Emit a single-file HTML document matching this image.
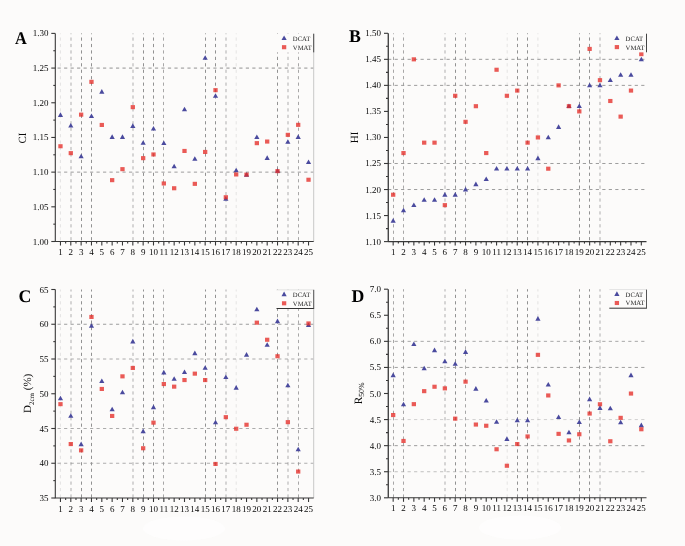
<!DOCTYPE html>
<html><head><meta charset="utf-8"><style>
html,body{margin:0;padding:0;background:#fcfbfa;}
body{width:685px;height:546px;overflow:hidden;}
svg{display:block;will-change:transform;}
.gh{stroke:#929292;stroke-width:1;stroke-dasharray:3.2 3.29;fill:none;}
.gv{stroke:#929292;stroke-width:1;stroke-dasharray:3.2 3.24;fill:none;}
.ax{stroke:#383838;stroke-width:1.1;fill:none;}
text{font-family:"Liberation Serif",serif;fill:#0a0a0a;text-rendering:geometricPrecision;}
.tl{font-size:9px;}
.lg{font-size:6.7px;fill:#1e1e1e;}
.pl{font-size:17.8px;font-weight:bold;fill:#000;text-rendering:geometricPrecision;}
.at{font-size:11px;}
.sub{font-size:7px;}
</style></head><body>
<svg width="685" height="546" viewBox="0 0 685 546">
<rect width="685" height="546" fill="#fcfbfa"/>
<ellipse cx="520" cy="527.6" rx="41" ry="12" fill="#fefefe" opacity="0.8"/>
<ellipse cx="184" cy="528.5" rx="41" ry="12" fill="#fefefe" opacity="0.8"/>
<line x1="55.30" y1="68.08" x2="313.70" y2="68.08" class="gh" stroke-dashoffset="4.2"/>
<line x1="55.30" y1="172.13" x2="313.70" y2="172.13" class="gh" stroke-dashoffset="4.2" stroke-opacity="0.9"/>
<line x1="60.40" y1="33.40" x2="60.40" y2="241.50" class="gv" stroke-dashoffset="2.37" stroke-opacity="0.22"/>
<line x1="71.00" y1="33.40" x2="71.00" y2="241.50" class="gv" stroke-dashoffset="2.37" stroke-opacity="0.72"/>
<line x1="81.50" y1="33.40" x2="81.50" y2="241.50" class="gv" stroke-dashoffset="2.37"/>
<line x1="91.50" y1="33.40" x2="91.50" y2="241.50" class="gv" stroke-dashoffset="2.37"/>
<line x1="133.00" y1="33.40" x2="133.00" y2="241.50" class="gv" stroke-dashoffset="2.37" stroke-opacity="0.72"/>
<line x1="143.50" y1="33.40" x2="143.50" y2="241.50" class="gv" stroke-dashoffset="2.37"/>
<line x1="153.50" y1="33.40" x2="153.50" y2="241.50" class="gv" stroke-dashoffset="2.37"/>
<line x1="163.50" y1="33.40" x2="163.50" y2="241.50" class="gv" stroke-dashoffset="2.37" stroke-opacity="0.8"/>
<line x1="205.50" y1="33.40" x2="205.50" y2="241.50" class="gv" stroke-dashoffset="2.37"/>
<line x1="215.50" y1="33.40" x2="215.50" y2="241.50" class="gv" stroke-dashoffset="2.37"/>
<line x1="226.00" y1="33.40" x2="226.00" y2="241.50" class="gv" stroke-dashoffset="2.37" stroke-opacity="0.72"/>
<line x1="236.20" y1="33.40" x2="236.20" y2="241.50" class="gv" stroke-dashoffset="2.37" stroke-opacity="0.22"/>
<line x1="277.50" y1="33.40" x2="277.50" y2="241.50" class="gv" stroke-dashoffset="2.37"/>
<line x1="288.00" y1="33.40" x2="288.00" y2="241.50" class="gv" stroke-dashoffset="2.37" stroke-opacity="0.72"/>
<line x1="298.50" y1="33.40" x2="298.50" y2="241.50" class="gv" stroke-dashoffset="2.37" stroke-opacity="0.8"/>
<line x1="313.70" y1="33.40" x2="313.70" y2="241.50" stroke="#c8c8c8" stroke-width="1"/>
<path d="M55.30 33.40V241.50H313.70" class="ax"/>
<line x1="51.30" y1="241.50" x2="55.30" y2="241.50" class="ax"/>
<text x="48.40" y="244.50" class="tl" text-anchor="end">1.00</text>
<line x1="53.30" y1="224.16" x2="55.30" y2="224.16" class="ax"/>
<line x1="51.30" y1="206.82" x2="55.30" y2="206.82" class="ax"/>
<text x="48.40" y="209.82" class="tl" text-anchor="end">1.05</text>
<line x1="53.30" y1="189.48" x2="55.30" y2="189.48" class="ax"/>
<line x1="51.30" y1="172.13" x2="55.30" y2="172.13" class="ax"/>
<text x="48.40" y="175.13" class="tl" text-anchor="end">1.10</text>
<line x1="53.30" y1="154.79" x2="55.30" y2="154.79" class="ax"/>
<line x1="51.30" y1="137.45" x2="55.30" y2="137.45" class="ax"/>
<text x="48.40" y="140.45" class="tl" text-anchor="end">1.15</text>
<line x1="53.30" y1="120.11" x2="55.30" y2="120.11" class="ax"/>
<line x1="51.30" y1="102.77" x2="55.30" y2="102.77" class="ax"/>
<text x="48.40" y="105.77" class="tl" text-anchor="end">1.20</text>
<line x1="53.30" y1="85.43" x2="55.30" y2="85.43" class="ax"/>
<line x1="51.30" y1="68.08" x2="55.30" y2="68.08" class="ax"/>
<text x="48.40" y="71.08" class="tl" text-anchor="end">1.25</text>
<line x1="53.30" y1="50.74" x2="55.30" y2="50.74" class="ax"/>
<line x1="51.30" y1="33.40" x2="55.30" y2="33.40" class="ax"/>
<text x="48.40" y="36.40" class="tl" text-anchor="end">1.30</text>
<line x1="60.47" y1="241.50" x2="60.47" y2="245.50" class="ax"/>
<text x="60.47" y="255.10" class="tl" text-anchor="middle">1</text>
<line x1="65.64" y1="241.50" x2="65.64" y2="243.50" class="ax"/>
<line x1="70.80" y1="241.50" x2="70.80" y2="245.50" class="ax"/>
<text x="70.80" y="255.10" class="tl" text-anchor="middle">2</text>
<line x1="75.97" y1="241.50" x2="75.97" y2="243.50" class="ax"/>
<line x1="81.14" y1="241.50" x2="81.14" y2="245.50" class="ax"/>
<text x="81.14" y="255.10" class="tl" text-anchor="middle">3</text>
<line x1="86.31" y1="241.50" x2="86.31" y2="243.50" class="ax"/>
<line x1="91.48" y1="241.50" x2="91.48" y2="245.50" class="ax"/>
<text x="91.48" y="255.10" class="tl" text-anchor="middle">4</text>
<line x1="96.64" y1="241.50" x2="96.64" y2="243.50" class="ax"/>
<line x1="101.81" y1="241.50" x2="101.81" y2="245.50" class="ax"/>
<text x="101.81" y="255.10" class="tl" text-anchor="middle">5</text>
<line x1="106.98" y1="241.50" x2="106.98" y2="243.50" class="ax"/>
<line x1="112.15" y1="241.50" x2="112.15" y2="245.50" class="ax"/>
<text x="112.15" y="255.10" class="tl" text-anchor="middle">6</text>
<line x1="117.32" y1="241.50" x2="117.32" y2="243.50" class="ax"/>
<line x1="122.48" y1="241.50" x2="122.48" y2="245.50" class="ax"/>
<text x="122.48" y="255.10" class="tl" text-anchor="middle">7</text>
<line x1="127.65" y1="241.50" x2="127.65" y2="243.50" class="ax"/>
<line x1="132.82" y1="241.50" x2="132.82" y2="245.50" class="ax"/>
<text x="132.82" y="255.10" class="tl" text-anchor="middle">8</text>
<line x1="137.99" y1="241.50" x2="137.99" y2="243.50" class="ax"/>
<line x1="143.16" y1="241.50" x2="143.16" y2="245.50" class="ax"/>
<text x="143.16" y="255.10" class="tl" text-anchor="middle">9</text>
<line x1="148.32" y1="241.50" x2="148.32" y2="243.50" class="ax"/>
<line x1="153.49" y1="241.50" x2="153.49" y2="245.50" class="ax"/>
<text x="153.49" y="255.10" class="tl" text-anchor="middle">10</text>
<line x1="158.66" y1="241.50" x2="158.66" y2="243.50" class="ax"/>
<line x1="163.83" y1="241.50" x2="163.83" y2="245.50" class="ax"/>
<text x="163.83" y="255.10" class="tl" text-anchor="middle">11</text>
<line x1="169.00" y1="241.50" x2="169.00" y2="243.50" class="ax"/>
<line x1="174.16" y1="241.50" x2="174.16" y2="245.50" class="ax"/>
<text x="174.16" y="255.10" class="tl" text-anchor="middle">12</text>
<line x1="179.33" y1="241.50" x2="179.33" y2="243.50" class="ax"/>
<line x1="184.50" y1="241.50" x2="184.50" y2="245.50" class="ax"/>
<text x="184.50" y="255.10" class="tl" text-anchor="middle">13</text>
<line x1="189.67" y1="241.50" x2="189.67" y2="243.50" class="ax"/>
<line x1="194.84" y1="241.50" x2="194.84" y2="245.50" class="ax"/>
<text x="194.84" y="255.10" class="tl" text-anchor="middle">14</text>
<line x1="200.00" y1="241.50" x2="200.00" y2="243.50" class="ax"/>
<line x1="205.17" y1="241.50" x2="205.17" y2="245.50" class="ax"/>
<text x="205.17" y="255.10" class="tl" text-anchor="middle">15</text>
<line x1="210.34" y1="241.50" x2="210.34" y2="243.50" class="ax"/>
<line x1="215.51" y1="241.50" x2="215.51" y2="245.50" class="ax"/>
<text x="215.51" y="255.10" class="tl" text-anchor="middle">16</text>
<line x1="220.68" y1="241.50" x2="220.68" y2="243.50" class="ax"/>
<line x1="225.84" y1="241.50" x2="225.84" y2="245.50" class="ax"/>
<text x="225.84" y="255.10" class="tl" text-anchor="middle">17</text>
<line x1="231.01" y1="241.50" x2="231.01" y2="243.50" class="ax"/>
<line x1="236.18" y1="241.50" x2="236.18" y2="245.50" class="ax"/>
<text x="236.18" y="255.10" class="tl" text-anchor="middle">18</text>
<line x1="241.35" y1="241.50" x2="241.35" y2="243.50" class="ax"/>
<line x1="246.52" y1="241.50" x2="246.52" y2="245.50" class="ax"/>
<text x="246.52" y="255.10" class="tl" text-anchor="middle">19</text>
<line x1="251.68" y1="241.50" x2="251.68" y2="243.50" class="ax"/>
<line x1="256.85" y1="241.50" x2="256.85" y2="245.50" class="ax"/>
<text x="256.85" y="255.10" class="tl" text-anchor="middle">20</text>
<line x1="262.02" y1="241.50" x2="262.02" y2="243.50" class="ax"/>
<line x1="267.19" y1="241.50" x2="267.19" y2="245.50" class="ax"/>
<text x="267.19" y="255.10" class="tl" text-anchor="middle">21</text>
<line x1="272.36" y1="241.50" x2="272.36" y2="243.50" class="ax"/>
<line x1="277.52" y1="241.50" x2="277.52" y2="245.50" class="ax"/>
<text x="277.52" y="255.10" class="tl" text-anchor="middle">22</text>
<line x1="282.69" y1="241.50" x2="282.69" y2="243.50" class="ax"/>
<line x1="287.86" y1="241.50" x2="287.86" y2="245.50" class="ax"/>
<text x="287.86" y="255.10" class="tl" text-anchor="middle">23</text>
<line x1="293.03" y1="241.50" x2="293.03" y2="243.50" class="ax"/>
<line x1="298.20" y1="241.50" x2="298.20" y2="245.50" class="ax"/>
<text x="298.20" y="255.10" class="tl" text-anchor="middle">24</text>
<line x1="303.36" y1="241.50" x2="303.36" y2="243.50" class="ax"/>
<line x1="308.53" y1="241.50" x2="308.53" y2="245.50" class="ax"/>
<text x="308.53" y="255.10" class="tl" text-anchor="middle">25</text>
<path d="M60.47 112.35L63.07 116.95L57.87 116.95Z" fill="#4a4a9e"/>
<rect x="58.32" y="144.20" width="4.3" height="4.1" fill="#e42d28" fill-opacity="0.78"/>
<path d="M70.80 122.95L73.40 127.55L68.20 127.55Z" fill="#4a4a9e"/>
<rect x="68.65" y="151.10" width="4.3" height="4.1" fill="#e42d28" fill-opacity="0.78"/>
<path d="M81.14 153.65L83.74 158.25L78.54 158.25Z" fill="#4a4a9e"/>
<rect x="78.99" y="112.60" width="4.3" height="4.1" fill="#e42d28" fill-opacity="0.78"/>
<path d="M91.48 113.45L94.08 118.05L88.88 118.05Z" fill="#4a4a9e"/>
<rect x="89.33" y="79.80" width="4.3" height="4.1" fill="#e42d28" fill-opacity="0.78"/>
<path d="M101.81 89.05L104.41 93.65L99.21 93.65Z" fill="#4a4a9e"/>
<rect x="99.66" y="122.90" width="4.3" height="4.1" fill="#e42d28" fill-opacity="0.78"/>
<path d="M112.15 134.35L114.75 138.95L109.55 138.95Z" fill="#4a4a9e"/>
<rect x="110.00" y="178.10" width="4.3" height="4.1" fill="#e42d28" fill-opacity="0.78"/>
<path d="M122.48 134.35L125.08 138.95L119.88 138.95Z" fill="#4a4a9e"/>
<rect x="120.33" y="167.10" width="4.3" height="4.1" fill="#e42d28" fill-opacity="0.78"/>
<path d="M132.82 123.35L135.42 127.95L130.22 127.95Z" fill="#4a4a9e"/>
<rect x="130.67" y="105.10" width="4.3" height="4.1" fill="#e42d28" fill-opacity="0.78"/>
<path d="M143.16 140.25L145.76 144.85L140.56 144.85Z" fill="#4a4a9e"/>
<rect x="141.01" y="156.10" width="4.3" height="4.1" fill="#e42d28" fill-opacity="0.78"/>
<path d="M153.49 125.95L156.09 130.55L150.89 130.55Z" fill="#4a4a9e"/>
<rect x="151.34" y="152.40" width="4.3" height="4.1" fill="#e42d28" fill-opacity="0.78"/>
<path d="M163.83 140.45L166.43 145.05L161.23 145.05Z" fill="#4a4a9e"/>
<rect x="161.68" y="181.40" width="4.3" height="4.1" fill="#e42d28" fill-opacity="0.78"/>
<path d="M174.16 163.75L176.76 168.35L171.56 168.35Z" fill="#4a4a9e"/>
<rect x="172.01" y="186.20" width="4.3" height="4.1" fill="#e42d28" fill-opacity="0.78"/>
<path d="M184.50 106.65L187.10 111.25L181.90 111.25Z" fill="#4a4a9e"/>
<rect x="182.35" y="148.90" width="4.3" height="4.1" fill="#e42d28" fill-opacity="0.78"/>
<path d="M194.84 156.15L197.44 160.75L192.24 160.75Z" fill="#4a4a9e"/>
<rect x="192.69" y="181.80" width="4.3" height="4.1" fill="#e42d28" fill-opacity="0.78"/>
<path d="M205.17 55.15L207.77 59.75L202.57 59.75Z" fill="#4a4a9e"/>
<rect x="203.02" y="149.90" width="4.3" height="4.1" fill="#e42d28" fill-opacity="0.78"/>
<path d="M215.51 93.15L218.11 97.75L212.91 97.75Z" fill="#4a4a9e"/>
<rect x="213.36" y="88.10" width="4.3" height="4.1" fill="#e42d28" fill-opacity="0.78"/>
<path d="M225.84 196.15L228.44 200.75L223.24 200.75Z" fill="#4a4a9e"/>
<rect x="223.69" y="195.20" width="4.3" height="4.1" fill="#e42d28" fill-opacity="0.78"/>
<path d="M236.18 167.65L238.78 172.25L233.58 172.25Z" fill="#4a4a9e"/>
<rect x="234.03" y="172.40" width="4.3" height="4.1" fill="#e42d28" fill-opacity="0.78"/>
<path d="M246.52 172.05L249.12 176.65L243.92 176.65Z" fill="#4a4a9e"/>
<rect x="244.37" y="172.60" width="4.3" height="4.1" fill="#e42d28" fill-opacity="0.78"/>
<path d="M256.85 134.45L259.45 139.05L254.25 139.05Z" fill="#4a4a9e"/>
<rect x="254.70" y="141.10" width="4.3" height="4.1" fill="#e42d28" fill-opacity="0.78"/>
<path d="M267.19 155.35L269.79 159.95L264.59 159.95Z" fill="#4a4a9e"/>
<rect x="265.04" y="139.50" width="4.3" height="4.1" fill="#e42d28" fill-opacity="0.78"/>
<path d="M277.52 168.15L280.12 172.75L274.92 172.75Z" fill="#4a4a9e"/>
<rect x="275.37" y="169.10" width="4.3" height="4.1" fill="#e42d28" fill-opacity="0.78"/>
<path d="M287.86 139.25L290.46 143.85L285.26 143.85Z" fill="#4a4a9e"/>
<rect x="285.71" y="132.80" width="4.3" height="4.1" fill="#e42d28" fill-opacity="0.78"/>
<path d="M298.20 134.35L300.80 138.95L295.60 138.95Z" fill="#4a4a9e"/>
<rect x="296.05" y="122.80" width="4.3" height="4.1" fill="#e42d28" fill-opacity="0.78"/>
<path d="M308.53 159.45L311.13 164.05L305.93 164.05Z" fill="#4a4a9e"/>
<rect x="306.38" y="177.70" width="4.3" height="4.1" fill="#e42d28" fill-opacity="0.78"/>
<rect x="276.50" y="33.80" width="37.20" height="18.60" fill="#fcfbfa"/>
<line x1="313.70" y1="33.80" x2="313.70" y2="52.40" stroke="#444" stroke-width="1"/>
<path d="M284.10 35.50L286.70 40.10L281.50 40.10Z" fill="#4a4a9e"/>
<rect x="281.95" y="45.15" width="4.3" height="4.1" fill="#e42d28" fill-opacity="0.78"/>
<text x="292.80" y="40.70" class="lg">DCAT</text>
<text x="292.80" y="49.60" class="lg">VMAT</text>
<text transform="translate(15.0,44.4) scale(0.92,1.0)" class="pl">A</text>
<line x1="388.00" y1="59.34" x2="646.50" y2="59.34" class="gh" stroke-dashoffset="6.39" stroke-opacity="0.9"/>
<line x1="388.00" y1="85.38" x2="646.50" y2="85.38" class="gh" stroke-dashoffset="6.39" stroke-opacity="0.9"/>
<line x1="388.00" y1="163.49" x2="646.50" y2="163.49" class="gh" stroke-dashoffset="6.39" stroke-opacity="0.9"/>
<line x1="388.00" y1="189.53" x2="646.50" y2="189.53" class="gh" stroke-dashoffset="6.39" stroke-opacity="0.9"/>
<line x1="393.50" y1="33.30" x2="393.50" y2="241.60" class="gv" stroke-dashoffset="2.3" stroke-opacity="0.8"/>
<line x1="403.50" y1="33.30" x2="403.50" y2="241.60" class="gv" stroke-dashoffset="2.3" stroke-opacity="0.8"/>
<line x1="445.00" y1="33.30" x2="445.00" y2="241.60" class="gv" stroke-dashoffset="2.3" stroke-opacity="0.72"/>
<line x1="455.50" y1="33.30" x2="455.50" y2="241.60" class="gv" stroke-dashoffset="2.3"/>
<line x1="465.50" y1="33.30" x2="465.50" y2="241.60" class="gv" stroke-dashoffset="2.3" stroke-opacity="0.8"/>
<line x1="507.20" y1="33.30" x2="507.20" y2="241.60" class="gv" stroke-dashoffset="2.3" stroke-opacity="0.22"/>
<line x1="517.50" y1="33.30" x2="517.50" y2="241.60" class="gv" stroke-dashoffset="2.3"/>
<line x1="527.50" y1="33.30" x2="527.50" y2="241.60" class="gv" stroke-dashoffset="2.3"/>
<line x1="537.90" y1="33.30" x2="537.90" y2="241.60" class="gv" stroke-dashoffset="2.3" stroke-opacity="0.22"/>
<line x1="579.50" y1="33.30" x2="579.50" y2="241.60" class="gv" stroke-dashoffset="2.3"/>
<line x1="589.50" y1="33.30" x2="589.50" y2="241.60" class="gv" stroke-dashoffset="2.3"/>
<line x1="600.00" y1="33.30" x2="600.00" y2="241.60" class="gv" stroke-dashoffset="2.3" stroke-opacity="0.72"/>
<path d="M388.25 33.30V241.60" class="ax" style="stroke:#262626;stroke-width:1.2"/>
<path d="M388.00 241.60H646.50" class="ax"/>
<line x1="384.00" y1="241.60" x2="388.00" y2="241.60" class="ax"/>
<text x="381.10" y="244.60" class="tl" text-anchor="end">1.10</text>
<line x1="386.00" y1="228.58" x2="388.00" y2="228.58" class="ax"/>
<line x1="384.00" y1="215.56" x2="388.00" y2="215.56" class="ax"/>
<text x="381.10" y="218.56" class="tl" text-anchor="end">1.15</text>
<line x1="386.00" y1="202.54" x2="388.00" y2="202.54" class="ax"/>
<line x1="384.00" y1="189.52" x2="388.00" y2="189.52" class="ax"/>
<text x="381.10" y="192.52" class="tl" text-anchor="end">1.20</text>
<line x1="386.00" y1="176.51" x2="388.00" y2="176.51" class="ax"/>
<line x1="384.00" y1="163.49" x2="388.00" y2="163.49" class="ax"/>
<text x="381.10" y="166.49" class="tl" text-anchor="end">1.25</text>
<line x1="386.00" y1="150.47" x2="388.00" y2="150.47" class="ax"/>
<line x1="384.00" y1="137.45" x2="388.00" y2="137.45" class="ax"/>
<text x="381.10" y="140.45" class="tl" text-anchor="end">1.30</text>
<line x1="386.00" y1="124.43" x2="388.00" y2="124.43" class="ax"/>
<line x1="384.00" y1="111.41" x2="388.00" y2="111.41" class="ax"/>
<text x="381.10" y="114.41" class="tl" text-anchor="end">1.35</text>
<line x1="386.00" y1="98.39" x2="388.00" y2="98.39" class="ax"/>
<line x1="384.00" y1="85.37" x2="388.00" y2="85.37" class="ax"/>
<text x="381.10" y="88.37" class="tl" text-anchor="end">1.40</text>
<line x1="386.00" y1="72.36" x2="388.00" y2="72.36" class="ax"/>
<line x1="384.00" y1="59.34" x2="388.00" y2="59.34" class="ax"/>
<text x="381.10" y="62.34" class="tl" text-anchor="end">1.45</text>
<line x1="386.00" y1="46.32" x2="388.00" y2="46.32" class="ax"/>
<line x1="384.00" y1="33.30" x2="388.00" y2="33.30" class="ax"/>
<text x="381.10" y="36.30" class="tl" text-anchor="end">1.50</text>
<line x1="393.17" y1="241.60" x2="393.17" y2="245.60" class="ax"/>
<text x="393.17" y="255.20" class="tl" text-anchor="middle">1</text>
<line x1="398.34" y1="241.60" x2="398.34" y2="243.60" class="ax"/>
<line x1="403.51" y1="241.60" x2="403.51" y2="245.60" class="ax"/>
<text x="403.51" y="255.20" class="tl" text-anchor="middle">2</text>
<line x1="408.68" y1="241.60" x2="408.68" y2="243.60" class="ax"/>
<line x1="413.85" y1="241.60" x2="413.85" y2="245.60" class="ax"/>
<text x="413.85" y="255.20" class="tl" text-anchor="middle">3</text>
<line x1="419.02" y1="241.60" x2="419.02" y2="243.60" class="ax"/>
<line x1="424.19" y1="241.60" x2="424.19" y2="245.60" class="ax"/>
<text x="424.19" y="255.20" class="tl" text-anchor="middle">4</text>
<line x1="429.36" y1="241.60" x2="429.36" y2="243.60" class="ax"/>
<line x1="434.53" y1="241.60" x2="434.53" y2="245.60" class="ax"/>
<text x="434.53" y="255.20" class="tl" text-anchor="middle">5</text>
<line x1="439.70" y1="241.60" x2="439.70" y2="243.60" class="ax"/>
<line x1="444.87" y1="241.60" x2="444.87" y2="245.60" class="ax"/>
<text x="444.87" y="255.20" class="tl" text-anchor="middle">6</text>
<line x1="450.04" y1="241.60" x2="450.04" y2="243.60" class="ax"/>
<line x1="455.21" y1="241.60" x2="455.21" y2="245.60" class="ax"/>
<text x="455.21" y="255.20" class="tl" text-anchor="middle">7</text>
<line x1="460.38" y1="241.60" x2="460.38" y2="243.60" class="ax"/>
<line x1="465.55" y1="241.60" x2="465.55" y2="245.60" class="ax"/>
<text x="465.55" y="255.20" class="tl" text-anchor="middle">8</text>
<line x1="470.72" y1="241.60" x2="470.72" y2="243.60" class="ax"/>
<line x1="475.89" y1="241.60" x2="475.89" y2="245.60" class="ax"/>
<text x="475.89" y="255.20" class="tl" text-anchor="middle">9</text>
<line x1="481.06" y1="241.60" x2="481.06" y2="243.60" class="ax"/>
<line x1="486.23" y1="241.60" x2="486.23" y2="245.60" class="ax"/>
<text x="486.23" y="255.20" class="tl" text-anchor="middle">10</text>
<line x1="491.40" y1="241.60" x2="491.40" y2="243.60" class="ax"/>
<line x1="496.57" y1="241.60" x2="496.57" y2="245.60" class="ax"/>
<text x="496.57" y="255.20" class="tl" text-anchor="middle">11</text>
<line x1="501.74" y1="241.60" x2="501.74" y2="243.60" class="ax"/>
<line x1="506.91" y1="241.60" x2="506.91" y2="245.60" class="ax"/>
<text x="506.91" y="255.20" class="tl" text-anchor="middle">12</text>
<line x1="512.08" y1="241.60" x2="512.08" y2="243.60" class="ax"/>
<line x1="517.25" y1="241.60" x2="517.25" y2="245.60" class="ax"/>
<text x="517.25" y="255.20" class="tl" text-anchor="middle">13</text>
<line x1="522.42" y1="241.60" x2="522.42" y2="243.60" class="ax"/>
<line x1="527.59" y1="241.60" x2="527.59" y2="245.60" class="ax"/>
<text x="527.59" y="255.20" class="tl" text-anchor="middle">14</text>
<line x1="532.76" y1="241.60" x2="532.76" y2="243.60" class="ax"/>
<line x1="537.93" y1="241.60" x2="537.93" y2="245.60" class="ax"/>
<text x="537.93" y="255.20" class="tl" text-anchor="middle">15</text>
<line x1="543.10" y1="241.60" x2="543.10" y2="243.60" class="ax"/>
<line x1="548.27" y1="241.60" x2="548.27" y2="245.60" class="ax"/>
<text x="548.27" y="255.20" class="tl" text-anchor="middle">16</text>
<line x1="553.44" y1="241.60" x2="553.44" y2="243.60" class="ax"/>
<line x1="558.61" y1="241.60" x2="558.61" y2="245.60" class="ax"/>
<text x="558.61" y="255.20" class="tl" text-anchor="middle">17</text>
<line x1="563.78" y1="241.60" x2="563.78" y2="243.60" class="ax"/>
<line x1="568.95" y1="241.60" x2="568.95" y2="245.60" class="ax"/>
<text x="568.95" y="255.20" class="tl" text-anchor="middle">18</text>
<line x1="574.12" y1="241.60" x2="574.12" y2="243.60" class="ax"/>
<line x1="579.29" y1="241.60" x2="579.29" y2="245.60" class="ax"/>
<text x="579.29" y="255.20" class="tl" text-anchor="middle">19</text>
<line x1="584.46" y1="241.60" x2="584.46" y2="243.60" class="ax"/>
<line x1="589.63" y1="241.60" x2="589.63" y2="245.60" class="ax"/>
<text x="589.63" y="255.20" class="tl" text-anchor="middle">20</text>
<line x1="594.80" y1="241.60" x2="594.80" y2="243.60" class="ax"/>
<line x1="599.97" y1="241.60" x2="599.97" y2="245.60" class="ax"/>
<text x="599.97" y="255.20" class="tl" text-anchor="middle">21</text>
<line x1="605.14" y1="241.60" x2="605.14" y2="243.60" class="ax"/>
<line x1="610.31" y1="241.60" x2="610.31" y2="245.60" class="ax"/>
<text x="610.31" y="255.20" class="tl" text-anchor="middle">22</text>
<line x1="615.48" y1="241.60" x2="615.48" y2="243.60" class="ax"/>
<line x1="620.65" y1="241.60" x2="620.65" y2="245.60" class="ax"/>
<text x="620.65" y="255.20" class="tl" text-anchor="middle">23</text>
<line x1="625.82" y1="241.60" x2="625.82" y2="243.60" class="ax"/>
<line x1="630.99" y1="241.60" x2="630.99" y2="245.60" class="ax"/>
<text x="630.99" y="255.20" class="tl" text-anchor="middle">24</text>
<line x1="636.16" y1="241.60" x2="636.16" y2="243.60" class="ax"/>
<line x1="641.33" y1="241.60" x2="641.33" y2="245.60" class="ax"/>
<text x="641.33" y="255.20" class="tl" text-anchor="middle">25</text>
<path d="M393.17 218.07L395.77 222.67L390.57 222.67Z" fill="#4a4a9e"/>
<rect x="391.02" y="192.68" width="4.3" height="4.1" fill="#e42d28" fill-opacity="0.78"/>
<path d="M403.51 207.66L406.11 212.26L400.91 212.26Z" fill="#4a4a9e"/>
<rect x="401.36" y="151.02" width="4.3" height="4.1" fill="#e42d28" fill-opacity="0.78"/>
<path d="M413.85 202.45L416.45 207.05L411.25 207.05Z" fill="#4a4a9e"/>
<rect x="411.70" y="57.29" width="4.3" height="4.1" fill="#e42d28" fill-opacity="0.78"/>
<path d="M424.19 197.24L426.79 201.84L421.59 201.84Z" fill="#4a4a9e"/>
<rect x="422.04" y="140.61" width="4.3" height="4.1" fill="#e42d28" fill-opacity="0.78"/>
<path d="M434.53 197.24L437.13 201.84L431.93 201.84Z" fill="#4a4a9e"/>
<rect x="432.38" y="140.61" width="4.3" height="4.1" fill="#e42d28" fill-opacity="0.78"/>
<path d="M444.87 192.03L447.47 196.63L442.27 196.63Z" fill="#4a4a9e"/>
<rect x="442.72" y="203.10" width="4.3" height="4.1" fill="#e42d28" fill-opacity="0.78"/>
<path d="M455.21 192.03L457.81 196.63L452.61 196.63Z" fill="#4a4a9e"/>
<rect x="453.06" y="93.74" width="4.3" height="4.1" fill="#e42d28" fill-opacity="0.78"/>
<path d="M465.55 186.83L468.15 191.43L462.95 191.43Z" fill="#4a4a9e"/>
<rect x="463.40" y="119.78" width="4.3" height="4.1" fill="#e42d28" fill-opacity="0.78"/>
<path d="M475.89 181.62L478.49 186.22L473.29 186.22Z" fill="#4a4a9e"/>
<rect x="473.74" y="104.15" width="4.3" height="4.1" fill="#e42d28" fill-opacity="0.78"/>
<path d="M486.23 176.41L488.83 181.01L483.63 181.01Z" fill="#4a4a9e"/>
<rect x="484.08" y="151.02" width="4.3" height="4.1" fill="#e42d28" fill-opacity="0.78"/>
<path d="M496.57 166.00L499.17 170.60L493.97 170.60Z" fill="#4a4a9e"/>
<rect x="494.42" y="67.70" width="4.3" height="4.1" fill="#e42d28" fill-opacity="0.78"/>
<path d="M506.91 166.00L509.51 170.60L504.31 170.60Z" fill="#4a4a9e"/>
<rect x="504.76" y="93.74" width="4.3" height="4.1" fill="#e42d28" fill-opacity="0.78"/>
<path d="M517.25 166.00L519.85 170.60L514.65 170.60Z" fill="#4a4a9e"/>
<rect x="515.10" y="88.53" width="4.3" height="4.1" fill="#e42d28" fill-opacity="0.78"/>
<path d="M527.59 166.00L530.19 170.60L524.99 170.60Z" fill="#4a4a9e"/>
<rect x="525.44" y="140.61" width="4.3" height="4.1" fill="#e42d28" fill-opacity="0.78"/>
<path d="M537.93 155.58L540.53 160.18L535.33 160.18Z" fill="#4a4a9e"/>
<rect x="535.78" y="135.40" width="4.3" height="4.1" fill="#e42d28" fill-opacity="0.78"/>
<path d="M548.27 134.75L550.87 139.35L545.67 139.35Z" fill="#4a4a9e"/>
<rect x="546.12" y="166.65" width="4.3" height="4.1" fill="#e42d28" fill-opacity="0.78"/>
<path d="M558.61 124.33L561.21 128.94L556.01 128.94Z" fill="#4a4a9e"/>
<rect x="556.46" y="83.33" width="4.3" height="4.1" fill="#e42d28" fill-opacity="0.78"/>
<path d="M568.95 103.50L571.55 108.10L566.35 108.10Z" fill="#4a4a9e"/>
<rect x="566.80" y="104.15" width="4.3" height="4.1" fill="#e42d28" fill-opacity="0.78"/>
<path d="M579.29 103.50L581.89 108.10L576.69 108.10Z" fill="#4a4a9e"/>
<rect x="577.14" y="109.36" width="4.3" height="4.1" fill="#e42d28" fill-opacity="0.78"/>
<path d="M589.63 82.68L592.23 87.28L587.03 87.28Z" fill="#4a4a9e"/>
<rect x="587.48" y="46.87" width="4.3" height="4.1" fill="#e42d28" fill-opacity="0.78"/>
<path d="M599.97 82.68L602.57 87.28L597.37 87.28Z" fill="#4a4a9e"/>
<rect x="597.82" y="78.12" width="4.3" height="4.1" fill="#e42d28" fill-opacity="0.78"/>
<path d="M610.31 77.47L612.91 82.07L607.71 82.07Z" fill="#4a4a9e"/>
<rect x="608.16" y="98.95" width="4.3" height="4.1" fill="#e42d28" fill-opacity="0.78"/>
<path d="M620.65 72.26L623.25 76.86L618.05 76.86Z" fill="#4a4a9e"/>
<rect x="618.50" y="114.57" width="4.3" height="4.1" fill="#e42d28" fill-opacity="0.78"/>
<path d="M630.99 72.26L633.59 76.86L628.39 76.86Z" fill="#4a4a9e"/>
<rect x="628.84" y="88.53" width="4.3" height="4.1" fill="#e42d28" fill-opacity="0.78"/>
<path d="M641.33 56.64L643.93 61.24L638.73 61.24Z" fill="#4a4a9e"/>
<rect x="639.18" y="52.08" width="4.3" height="4.1" fill="#e42d28" fill-opacity="0.78"/>
<rect x="609.30" y="33.70" width="37.20" height="18.60" fill="#fcfbfa"/>
<line x1="646.50" y1="33.70" x2="646.50" y2="52.30" stroke="#444" stroke-width="1"/>
<path d="M616.90 35.40L619.50 40.00L614.30 40.00Z" fill="#4a4a9e"/>
<rect x="614.75" y="45.05" width="4.3" height="4.1" fill="#e42d28" fill-opacity="0.78"/>
<text x="625.60" y="40.60" class="lg">DCAT</text>
<text x="625.60" y="49.50" class="lg">VMAT</text>
<text transform="translate(349.0,42.0) scale(1.0,1.0)" class="pl">B</text>
<line x1="55.30" y1="324.25" x2="313.70" y2="324.25" class="gh" stroke-dashoffset="4.2" stroke-opacity="0.9"/>
<line x1="55.30" y1="359.00" x2="313.70" y2="359.00" class="gh" stroke-dashoffset="4.2" stroke-opacity="0.75"/>
<line x1="55.30" y1="428.50" x2="313.70" y2="428.50" class="gh" stroke-dashoffset="4.2" stroke-opacity="0.75"/>
<line x1="55.30" y1="463.25" x2="313.70" y2="463.25" class="gh" stroke-dashoffset="4.2" stroke-opacity="0.75"/>
<line x1="60.40" y1="289.50" x2="60.40" y2="498.00" class="gv" stroke-dashoffset="1.17" stroke-opacity="0.22"/>
<line x1="71.00" y1="289.50" x2="71.00" y2="498.00" class="gv" stroke-dashoffset="1.17" stroke-opacity="0.72"/>
<line x1="81.50" y1="289.50" x2="81.50" y2="498.00" class="gv" stroke-dashoffset="1.17"/>
<line x1="91.50" y1="289.50" x2="91.50" y2="498.00" class="gv" stroke-dashoffset="1.17"/>
<line x1="133.00" y1="289.50" x2="133.00" y2="498.00" class="gv" stroke-dashoffset="1.17" stroke-opacity="0.72"/>
<line x1="143.50" y1="289.50" x2="143.50" y2="498.00" class="gv" stroke-dashoffset="1.17"/>
<line x1="153.50" y1="289.50" x2="153.50" y2="498.00" class="gv" stroke-dashoffset="1.17"/>
<line x1="163.50" y1="289.50" x2="163.50" y2="498.00" class="gv" stroke-dashoffset="1.17" stroke-opacity="0.8"/>
<line x1="205.50" y1="289.50" x2="205.50" y2="498.00" class="gv" stroke-dashoffset="1.17"/>
<line x1="215.50" y1="289.50" x2="215.50" y2="498.00" class="gv" stroke-dashoffset="1.17"/>
<line x1="226.00" y1="289.50" x2="226.00" y2="498.00" class="gv" stroke-dashoffset="1.17" stroke-opacity="0.72"/>
<line x1="236.20" y1="289.50" x2="236.20" y2="498.00" class="gv" stroke-dashoffset="1.17" stroke-opacity="0.22"/>
<line x1="277.50" y1="289.50" x2="277.50" y2="498.00" class="gv" stroke-dashoffset="1.17"/>
<line x1="288.00" y1="289.50" x2="288.00" y2="498.00" class="gv" stroke-dashoffset="1.17" stroke-opacity="0.72"/>
<line x1="298.50" y1="289.50" x2="298.50" y2="498.00" class="gv" stroke-dashoffset="1.17" stroke-opacity="0.8"/>
<line x1="313.70" y1="289.50" x2="313.70" y2="498.00" stroke="#c8c8c8" stroke-width="1"/>
<path d="M55.30 289.50V498.00H313.70" class="ax"/>
<line x1="51.30" y1="498.00" x2="55.30" y2="498.00" class="ax"/>
<text x="48.40" y="501.00" class="tl" text-anchor="end">35</text>
<line x1="53.30" y1="480.62" x2="55.30" y2="480.62" class="ax"/>
<line x1="51.30" y1="463.25" x2="55.30" y2="463.25" class="ax"/>
<text x="48.40" y="466.25" class="tl" text-anchor="end">40</text>
<line x1="53.30" y1="445.88" x2="55.30" y2="445.88" class="ax"/>
<line x1="51.30" y1="428.50" x2="55.30" y2="428.50" class="ax"/>
<text x="48.40" y="431.50" class="tl" text-anchor="end">45</text>
<line x1="53.30" y1="411.12" x2="55.30" y2="411.12" class="ax"/>
<line x1="51.30" y1="393.75" x2="55.30" y2="393.75" class="ax"/>
<text x="48.40" y="396.75" class="tl" text-anchor="end">50</text>
<line x1="53.30" y1="376.38" x2="55.30" y2="376.38" class="ax"/>
<line x1="51.30" y1="359.00" x2="55.30" y2="359.00" class="ax"/>
<text x="48.40" y="362.00" class="tl" text-anchor="end">55</text>
<line x1="53.30" y1="341.62" x2="55.30" y2="341.62" class="ax"/>
<line x1="51.30" y1="324.25" x2="55.30" y2="324.25" class="ax"/>
<text x="48.40" y="327.25" class="tl" text-anchor="end">60</text>
<line x1="53.30" y1="306.88" x2="55.30" y2="306.88" class="ax"/>
<line x1="51.30" y1="289.50" x2="55.30" y2="289.50" class="ax"/>
<text x="48.40" y="292.50" class="tl" text-anchor="end">65</text>
<line x1="60.47" y1="498.00" x2="60.47" y2="502.00" class="ax"/>
<text x="60.47" y="511.60" class="tl" text-anchor="middle">1</text>
<line x1="65.64" y1="498.00" x2="65.64" y2="500.00" class="ax"/>
<line x1="70.80" y1="498.00" x2="70.80" y2="502.00" class="ax"/>
<text x="70.80" y="511.60" class="tl" text-anchor="middle">2</text>
<line x1="75.97" y1="498.00" x2="75.97" y2="500.00" class="ax"/>
<line x1="81.14" y1="498.00" x2="81.14" y2="502.00" class="ax"/>
<text x="81.14" y="511.60" class="tl" text-anchor="middle">3</text>
<line x1="86.31" y1="498.00" x2="86.31" y2="500.00" class="ax"/>
<line x1="91.48" y1="498.00" x2="91.48" y2="502.00" class="ax"/>
<text x="91.48" y="511.60" class="tl" text-anchor="middle">4</text>
<line x1="96.64" y1="498.00" x2="96.64" y2="500.00" class="ax"/>
<line x1="101.81" y1="498.00" x2="101.81" y2="502.00" class="ax"/>
<text x="101.81" y="511.60" class="tl" text-anchor="middle">5</text>
<line x1="106.98" y1="498.00" x2="106.98" y2="500.00" class="ax"/>
<line x1="112.15" y1="498.00" x2="112.15" y2="502.00" class="ax"/>
<text x="112.15" y="511.60" class="tl" text-anchor="middle">6</text>
<line x1="117.32" y1="498.00" x2="117.32" y2="500.00" class="ax"/>
<line x1="122.48" y1="498.00" x2="122.48" y2="502.00" class="ax"/>
<text x="122.48" y="511.60" class="tl" text-anchor="middle">7</text>
<line x1="127.65" y1="498.00" x2="127.65" y2="500.00" class="ax"/>
<line x1="132.82" y1="498.00" x2="132.82" y2="502.00" class="ax"/>
<text x="132.82" y="511.60" class="tl" text-anchor="middle">8</text>
<line x1="137.99" y1="498.00" x2="137.99" y2="500.00" class="ax"/>
<line x1="143.16" y1="498.00" x2="143.16" y2="502.00" class="ax"/>
<text x="143.16" y="511.60" class="tl" text-anchor="middle">9</text>
<line x1="148.32" y1="498.00" x2="148.32" y2="500.00" class="ax"/>
<line x1="153.49" y1="498.00" x2="153.49" y2="502.00" class="ax"/>
<text x="153.49" y="511.60" class="tl" text-anchor="middle">10</text>
<line x1="158.66" y1="498.00" x2="158.66" y2="500.00" class="ax"/>
<line x1="163.83" y1="498.00" x2="163.83" y2="502.00" class="ax"/>
<text x="163.83" y="511.60" class="tl" text-anchor="middle">11</text>
<line x1="169.00" y1="498.00" x2="169.00" y2="500.00" class="ax"/>
<line x1="174.16" y1="498.00" x2="174.16" y2="502.00" class="ax"/>
<text x="174.16" y="511.60" class="tl" text-anchor="middle">12</text>
<line x1="179.33" y1="498.00" x2="179.33" y2="500.00" class="ax"/>
<line x1="184.50" y1="498.00" x2="184.50" y2="502.00" class="ax"/>
<text x="184.50" y="511.60" class="tl" text-anchor="middle">13</text>
<line x1="189.67" y1="498.00" x2="189.67" y2="500.00" class="ax"/>
<line x1="194.84" y1="498.00" x2="194.84" y2="502.00" class="ax"/>
<text x="194.84" y="511.60" class="tl" text-anchor="middle">14</text>
<line x1="200.00" y1="498.00" x2="200.00" y2="500.00" class="ax"/>
<line x1="205.17" y1="498.00" x2="205.17" y2="502.00" class="ax"/>
<text x="205.17" y="511.60" class="tl" text-anchor="middle">15</text>
<line x1="210.34" y1="498.00" x2="210.34" y2="500.00" class="ax"/>
<line x1="215.51" y1="498.00" x2="215.51" y2="502.00" class="ax"/>
<text x="215.51" y="511.60" class="tl" text-anchor="middle">16</text>
<line x1="220.68" y1="498.00" x2="220.68" y2="500.00" class="ax"/>
<line x1="225.84" y1="498.00" x2="225.84" y2="502.00" class="ax"/>
<text x="225.84" y="511.60" class="tl" text-anchor="middle">17</text>
<line x1="231.01" y1="498.00" x2="231.01" y2="500.00" class="ax"/>
<line x1="236.18" y1="498.00" x2="236.18" y2="502.00" class="ax"/>
<text x="236.18" y="511.60" class="tl" text-anchor="middle">18</text>
<line x1="241.35" y1="498.00" x2="241.35" y2="500.00" class="ax"/>
<line x1="246.52" y1="498.00" x2="246.52" y2="502.00" class="ax"/>
<text x="246.52" y="511.60" class="tl" text-anchor="middle">19</text>
<line x1="251.68" y1="498.00" x2="251.68" y2="500.00" class="ax"/>
<line x1="256.85" y1="498.00" x2="256.85" y2="502.00" class="ax"/>
<text x="256.85" y="511.60" class="tl" text-anchor="middle">20</text>
<line x1="262.02" y1="498.00" x2="262.02" y2="500.00" class="ax"/>
<line x1="267.19" y1="498.00" x2="267.19" y2="502.00" class="ax"/>
<text x="267.19" y="511.60" class="tl" text-anchor="middle">21</text>
<line x1="272.36" y1="498.00" x2="272.36" y2="500.00" class="ax"/>
<line x1="277.52" y1="498.00" x2="277.52" y2="502.00" class="ax"/>
<text x="277.52" y="511.60" class="tl" text-anchor="middle">22</text>
<line x1="282.69" y1="498.00" x2="282.69" y2="500.00" class="ax"/>
<line x1="287.86" y1="498.00" x2="287.86" y2="502.00" class="ax"/>
<text x="287.86" y="511.60" class="tl" text-anchor="middle">23</text>
<line x1="293.03" y1="498.00" x2="293.03" y2="500.00" class="ax"/>
<line x1="298.20" y1="498.00" x2="298.20" y2="502.00" class="ax"/>
<text x="298.20" y="511.60" class="tl" text-anchor="middle">24</text>
<line x1="303.36" y1="498.00" x2="303.36" y2="500.00" class="ax"/>
<line x1="308.53" y1="498.00" x2="308.53" y2="502.00" class="ax"/>
<text x="308.53" y="511.60" class="tl" text-anchor="middle">25</text>
<path d="M60.47 395.65L63.07 400.25L57.87 400.25Z" fill="#4a4a9e"/>
<rect x="58.32" y="402.10" width="4.3" height="4.1" fill="#e42d28" fill-opacity="0.78"/>
<path d="M70.80 413.25L73.40 417.85L68.20 417.85Z" fill="#4a4a9e"/>
<rect x="68.65" y="442.00" width="4.3" height="4.1" fill="#e42d28" fill-opacity="0.78"/>
<path d="M81.14 441.55L83.74 446.15L78.54 446.15Z" fill="#4a4a9e"/>
<rect x="78.99" y="448.30" width="4.3" height="4.1" fill="#e42d28" fill-opacity="0.78"/>
<path d="M91.48 323.25L94.08 327.85L88.88 327.85Z" fill="#4a4a9e"/>
<rect x="89.33" y="314.90" width="4.3" height="4.1" fill="#e42d28" fill-opacity="0.78"/>
<path d="M101.81 378.45L104.41 383.05L99.21 383.05Z" fill="#4a4a9e"/>
<rect x="99.66" y="386.90" width="4.3" height="4.1" fill="#e42d28" fill-opacity="0.78"/>
<path d="M112.15 406.65L114.75 411.25L109.55 411.25Z" fill="#4a4a9e"/>
<rect x="110.00" y="413.90" width="4.3" height="4.1" fill="#e42d28" fill-opacity="0.78"/>
<path d="M122.48 389.65L125.08 394.25L119.88 394.25Z" fill="#4a4a9e"/>
<rect x="120.33" y="374.30" width="4.3" height="4.1" fill="#e42d28" fill-opacity="0.78"/>
<path d="M132.82 338.85L135.42 343.45L130.22 343.45Z" fill="#4a4a9e"/>
<rect x="130.67" y="365.90" width="4.3" height="4.1" fill="#e42d28" fill-opacity="0.78"/>
<path d="M143.16 428.55L145.76 433.15L140.56 433.15Z" fill="#4a4a9e"/>
<rect x="141.01" y="446.20" width="4.3" height="4.1" fill="#e42d28" fill-opacity="0.78"/>
<path d="M153.49 404.55L156.09 409.15L150.89 409.15Z" fill="#4a4a9e"/>
<rect x="151.34" y="420.60" width="4.3" height="4.1" fill="#e42d28" fill-opacity="0.78"/>
<path d="M163.83 369.85L166.43 374.45L161.23 374.45Z" fill="#4a4a9e"/>
<rect x="161.68" y="382.00" width="4.3" height="4.1" fill="#e42d28" fill-opacity="0.78"/>
<path d="M174.16 376.15L176.76 380.75L171.56 380.75Z" fill="#4a4a9e"/>
<rect x="172.01" y="384.60" width="4.3" height="4.1" fill="#e42d28" fill-opacity="0.78"/>
<path d="M184.50 369.45L187.10 374.05L181.90 374.05Z" fill="#4a4a9e"/>
<rect x="182.35" y="378.00" width="4.3" height="4.1" fill="#e42d28" fill-opacity="0.78"/>
<path d="M194.84 350.55L197.44 355.15L192.24 355.15Z" fill="#4a4a9e"/>
<rect x="192.69" y="371.60" width="4.3" height="4.1" fill="#e42d28" fill-opacity="0.78"/>
<path d="M205.17 365.25L207.77 369.85L202.57 369.85Z" fill="#4a4a9e"/>
<rect x="203.02" y="378.00" width="4.3" height="4.1" fill="#e42d28" fill-opacity="0.78"/>
<path d="M215.51 419.65L218.11 424.25L212.91 424.25Z" fill="#4a4a9e"/>
<rect x="213.36" y="461.90" width="4.3" height="4.1" fill="#e42d28" fill-opacity="0.78"/>
<path d="M225.84 374.45L228.44 379.05L223.24 379.05Z" fill="#4a4a9e"/>
<rect x="223.69" y="415.10" width="4.3" height="4.1" fill="#e42d28" fill-opacity="0.78"/>
<path d="M236.18 385.05L238.78 389.65L233.58 389.65Z" fill="#4a4a9e"/>
<rect x="234.03" y="426.70" width="4.3" height="4.1" fill="#e42d28" fill-opacity="0.78"/>
<path d="M246.52 352.05L249.12 356.65L243.92 356.65Z" fill="#4a4a9e"/>
<rect x="244.37" y="422.70" width="4.3" height="4.1" fill="#e42d28" fill-opacity="0.78"/>
<path d="M256.85 306.65L259.45 311.25L254.25 311.25Z" fill="#4a4a9e"/>
<rect x="254.70" y="320.60" width="4.3" height="4.1" fill="#e42d28" fill-opacity="0.78"/>
<path d="M267.19 342.25L269.79 346.85L264.59 346.85Z" fill="#4a4a9e"/>
<rect x="265.04" y="337.70" width="4.3" height="4.1" fill="#e42d28" fill-opacity="0.78"/>
<path d="M277.52 318.55L280.12 323.15L274.92 323.15Z" fill="#4a4a9e"/>
<rect x="275.37" y="354.20" width="4.3" height="4.1" fill="#e42d28" fill-opacity="0.78"/>
<path d="M287.86 382.75L290.46 387.35L285.26 387.35Z" fill="#4a4a9e"/>
<rect x="285.71" y="420.10" width="4.3" height="4.1" fill="#e42d28" fill-opacity="0.78"/>
<path d="M298.20 446.65L300.80 451.25L295.60 451.25Z" fill="#4a4a9e"/>
<rect x="296.05" y="469.50" width="4.3" height="4.1" fill="#e42d28" fill-opacity="0.78"/>
<path d="M308.53 322.45L311.13 327.05L305.93 327.05Z" fill="#4a4a9e"/>
<rect x="306.38" y="321.40" width="4.3" height="4.1" fill="#e42d28" fill-opacity="0.78"/>
<rect x="276.50" y="289.90" width="37.20" height="18.60" fill="#fcfbfa"/>
<line x1="276.50" y1="289.90" x2="313.70" y2="289.90" stroke="#dcdcdc" stroke-width="0.8"/>
<line x1="276.50" y1="308.50" x2="314.10" y2="308.50" stroke="#333" stroke-width="1"/>
<line x1="313.70" y1="289.90" x2="313.70" y2="308.50" stroke="#555" stroke-width="1"/>
<path d="M284.10 291.60L286.70 296.20L281.50 296.20Z" fill="#4a4a9e"/>
<rect x="281.95" y="301.25" width="4.3" height="4.1" fill="#e42d28" fill-opacity="0.78"/>
<text x="292.80" y="296.80" class="lg">DCAT</text>
<text x="292.80" y="305.70" class="lg">VMAT</text>
<text transform="translate(18.4,301.9) scale(1.0,1.0)" class="pl">C</text>
<line x1="388.00" y1="341.35" x2="646.50" y2="341.35" class="gh" stroke-dashoffset="6.39" stroke-opacity="0.8"/>
<line x1="388.00" y1="367.43" x2="646.50" y2="367.43" class="gh" stroke-dashoffset="6.39" stroke-opacity="0.9"/>
<line x1="388.00" y1="419.57" x2="646.50" y2="419.57" class="gh" stroke-dashoffset="6.39" stroke-opacity="0.4"/>
<line x1="388.00" y1="445.65" x2="646.50" y2="445.65" class="gh" stroke-dashoffset="6.39" stroke-opacity="0.9"/>
<line x1="388.00" y1="471.73" x2="646.50" y2="471.73" class="gh" stroke-dashoffset="6.39" stroke-opacity="0.55"/>
<line x1="393.50" y1="289.20" x2="393.50" y2="497.80" class="gv" stroke-dashoffset="0.87" stroke-opacity="0.8"/>
<line x1="403.50" y1="289.20" x2="403.50" y2="497.80" class="gv" stroke-dashoffset="0.87" stroke-opacity="0.8"/>
<line x1="445.00" y1="289.20" x2="445.00" y2="497.80" class="gv" stroke-dashoffset="0.87" stroke-opacity="0.72"/>
<line x1="455.50" y1="289.20" x2="455.50" y2="497.80" class="gv" stroke-dashoffset="0.87"/>
<line x1="465.50" y1="289.20" x2="465.50" y2="497.80" class="gv" stroke-dashoffset="0.87" stroke-opacity="0.8"/>
<line x1="507.20" y1="289.20" x2="507.20" y2="497.80" class="gv" stroke-dashoffset="0.87" stroke-opacity="0.22"/>
<line x1="517.50" y1="289.20" x2="517.50" y2="497.80" class="gv" stroke-dashoffset="0.87"/>
<line x1="527.50" y1="289.20" x2="527.50" y2="497.80" class="gv" stroke-dashoffset="0.87"/>
<line x1="537.90" y1="289.20" x2="537.90" y2="497.80" class="gv" stroke-dashoffset="0.87" stroke-opacity="0.22"/>
<line x1="579.50" y1="289.20" x2="579.50" y2="497.80" class="gv" stroke-dashoffset="0.87"/>
<line x1="589.50" y1="289.20" x2="589.50" y2="497.80" class="gv" stroke-dashoffset="0.87"/>
<line x1="600.00" y1="289.20" x2="600.00" y2="497.80" class="gv" stroke-dashoffset="0.87" stroke-opacity="0.72"/>
<path d="M388.25 289.20V497.80" class="ax" style="stroke:#262626;stroke-width:1.2"/>
<path d="M388.00 497.80H646.50" class="ax"/>
<line x1="384.00" y1="497.80" x2="388.00" y2="497.80" class="ax"/>
<text x="381.10" y="500.80" class="tl" text-anchor="end">3.0</text>
<line x1="386.00" y1="484.76" x2="388.00" y2="484.76" class="ax"/>
<line x1="384.00" y1="471.73" x2="388.00" y2="471.73" class="ax"/>
<text x="381.10" y="474.73" class="tl" text-anchor="end">3.5</text>
<line x1="386.00" y1="458.69" x2="388.00" y2="458.69" class="ax"/>
<line x1="384.00" y1="445.65" x2="388.00" y2="445.65" class="ax"/>
<text x="381.10" y="448.65" class="tl" text-anchor="end">4.0</text>
<line x1="386.00" y1="432.61" x2="388.00" y2="432.61" class="ax"/>
<line x1="384.00" y1="419.57" x2="388.00" y2="419.57" class="ax"/>
<text x="381.10" y="422.57" class="tl" text-anchor="end">4.5</text>
<line x1="386.00" y1="406.54" x2="388.00" y2="406.54" class="ax"/>
<line x1="384.00" y1="393.50" x2="388.00" y2="393.50" class="ax"/>
<text x="381.10" y="396.50" class="tl" text-anchor="end">5.0</text>
<line x1="386.00" y1="380.46" x2="388.00" y2="380.46" class="ax"/>
<line x1="384.00" y1="367.43" x2="388.00" y2="367.43" class="ax"/>
<text x="381.10" y="370.43" class="tl" text-anchor="end">5.5</text>
<line x1="386.00" y1="354.39" x2="388.00" y2="354.39" class="ax"/>
<line x1="384.00" y1="341.35" x2="388.00" y2="341.35" class="ax"/>
<text x="381.10" y="344.35" class="tl" text-anchor="end">6.0</text>
<line x1="386.00" y1="328.31" x2="388.00" y2="328.31" class="ax"/>
<line x1="384.00" y1="315.27" x2="388.00" y2="315.27" class="ax"/>
<text x="381.10" y="318.27" class="tl" text-anchor="end">6.5</text>
<line x1="386.00" y1="302.24" x2="388.00" y2="302.24" class="ax"/>
<line x1="384.00" y1="289.20" x2="388.00" y2="289.20" class="ax"/>
<text x="381.10" y="292.20" class="tl" text-anchor="end">7.0</text>
<line x1="393.17" y1="497.80" x2="393.17" y2="501.80" class="ax"/>
<text x="393.17" y="511.40" class="tl" text-anchor="middle">1</text>
<line x1="398.34" y1="497.80" x2="398.34" y2="499.80" class="ax"/>
<line x1="403.51" y1="497.80" x2="403.51" y2="501.80" class="ax"/>
<text x="403.51" y="511.40" class="tl" text-anchor="middle">2</text>
<line x1="408.68" y1="497.80" x2="408.68" y2="499.80" class="ax"/>
<line x1="413.85" y1="497.80" x2="413.85" y2="501.80" class="ax"/>
<text x="413.85" y="511.40" class="tl" text-anchor="middle">3</text>
<line x1="419.02" y1="497.80" x2="419.02" y2="499.80" class="ax"/>
<line x1="424.19" y1="497.80" x2="424.19" y2="501.80" class="ax"/>
<text x="424.19" y="511.40" class="tl" text-anchor="middle">4</text>
<line x1="429.36" y1="497.80" x2="429.36" y2="499.80" class="ax"/>
<line x1="434.53" y1="497.80" x2="434.53" y2="501.80" class="ax"/>
<text x="434.53" y="511.40" class="tl" text-anchor="middle">5</text>
<line x1="439.70" y1="497.80" x2="439.70" y2="499.80" class="ax"/>
<line x1="444.87" y1="497.80" x2="444.87" y2="501.80" class="ax"/>
<text x="444.87" y="511.40" class="tl" text-anchor="middle">6</text>
<line x1="450.04" y1="497.80" x2="450.04" y2="499.80" class="ax"/>
<line x1="455.21" y1="497.80" x2="455.21" y2="501.80" class="ax"/>
<text x="455.21" y="511.40" class="tl" text-anchor="middle">7</text>
<line x1="460.38" y1="497.80" x2="460.38" y2="499.80" class="ax"/>
<line x1="465.55" y1="497.80" x2="465.55" y2="501.80" class="ax"/>
<text x="465.55" y="511.40" class="tl" text-anchor="middle">8</text>
<line x1="470.72" y1="497.80" x2="470.72" y2="499.80" class="ax"/>
<line x1="475.89" y1="497.80" x2="475.89" y2="501.80" class="ax"/>
<text x="475.89" y="511.40" class="tl" text-anchor="middle">9</text>
<line x1="481.06" y1="497.80" x2="481.06" y2="499.80" class="ax"/>
<line x1="486.23" y1="497.80" x2="486.23" y2="501.80" class="ax"/>
<text x="486.23" y="511.40" class="tl" text-anchor="middle">10</text>
<line x1="491.40" y1="497.80" x2="491.40" y2="499.80" class="ax"/>
<line x1="496.57" y1="497.80" x2="496.57" y2="501.80" class="ax"/>
<text x="496.57" y="511.40" class="tl" text-anchor="middle">11</text>
<line x1="501.74" y1="497.80" x2="501.74" y2="499.80" class="ax"/>
<line x1="506.91" y1="497.80" x2="506.91" y2="501.80" class="ax"/>
<text x="506.91" y="511.40" class="tl" text-anchor="middle">12</text>
<line x1="512.08" y1="497.80" x2="512.08" y2="499.80" class="ax"/>
<line x1="517.25" y1="497.80" x2="517.25" y2="501.80" class="ax"/>
<text x="517.25" y="511.40" class="tl" text-anchor="middle">13</text>
<line x1="522.42" y1="497.80" x2="522.42" y2="499.80" class="ax"/>
<line x1="527.59" y1="497.80" x2="527.59" y2="501.80" class="ax"/>
<text x="527.59" y="511.40" class="tl" text-anchor="middle">14</text>
<line x1="532.76" y1="497.80" x2="532.76" y2="499.80" class="ax"/>
<line x1="537.93" y1="497.80" x2="537.93" y2="501.80" class="ax"/>
<text x="537.93" y="511.40" class="tl" text-anchor="middle">15</text>
<line x1="543.10" y1="497.80" x2="543.10" y2="499.80" class="ax"/>
<line x1="548.27" y1="497.80" x2="548.27" y2="501.80" class="ax"/>
<text x="548.27" y="511.40" class="tl" text-anchor="middle">16</text>
<line x1="553.44" y1="497.80" x2="553.44" y2="499.80" class="ax"/>
<line x1="558.61" y1="497.80" x2="558.61" y2="501.80" class="ax"/>
<text x="558.61" y="511.40" class="tl" text-anchor="middle">17</text>
<line x1="563.78" y1="497.80" x2="563.78" y2="499.80" class="ax"/>
<line x1="568.95" y1="497.80" x2="568.95" y2="501.80" class="ax"/>
<text x="568.95" y="511.40" class="tl" text-anchor="middle">18</text>
<line x1="574.12" y1="497.80" x2="574.12" y2="499.80" class="ax"/>
<line x1="579.29" y1="497.80" x2="579.29" y2="501.80" class="ax"/>
<text x="579.29" y="511.40" class="tl" text-anchor="middle">19</text>
<line x1="584.46" y1="497.80" x2="584.46" y2="499.80" class="ax"/>
<line x1="589.63" y1="497.80" x2="589.63" y2="501.80" class="ax"/>
<text x="589.63" y="511.40" class="tl" text-anchor="middle">20</text>
<line x1="594.80" y1="497.80" x2="594.80" y2="499.80" class="ax"/>
<line x1="599.97" y1="497.80" x2="599.97" y2="501.80" class="ax"/>
<text x="599.97" y="511.40" class="tl" text-anchor="middle">21</text>
<line x1="605.14" y1="497.80" x2="605.14" y2="499.80" class="ax"/>
<line x1="610.31" y1="497.80" x2="610.31" y2="501.80" class="ax"/>
<text x="610.31" y="511.40" class="tl" text-anchor="middle">22</text>
<line x1="615.48" y1="497.80" x2="615.48" y2="499.80" class="ax"/>
<line x1="620.65" y1="497.80" x2="620.65" y2="501.80" class="ax"/>
<text x="620.65" y="511.40" class="tl" text-anchor="middle">23</text>
<line x1="625.82" y1="497.80" x2="625.82" y2="499.80" class="ax"/>
<line x1="630.99" y1="497.80" x2="630.99" y2="501.80" class="ax"/>
<text x="630.99" y="511.40" class="tl" text-anchor="middle">24</text>
<line x1="636.16" y1="497.80" x2="636.16" y2="499.80" class="ax"/>
<line x1="641.33" y1="497.80" x2="641.33" y2="501.80" class="ax"/>
<text x="641.33" y="511.40" class="tl" text-anchor="middle">25</text>
<path d="M393.17 372.55L395.77 377.15L390.57 377.15Z" fill="#4a4a9e"/>
<rect x="391.02" y="413.00" width="4.3" height="4.1" fill="#e42d28" fill-opacity="0.78"/>
<path d="M403.51 401.65L406.11 406.25L400.91 406.25Z" fill="#4a4a9e"/>
<rect x="401.36" y="438.90" width="4.3" height="4.1" fill="#e42d28" fill-opacity="0.78"/>
<path d="M413.85 341.45L416.45 346.05L411.25 346.05Z" fill="#4a4a9e"/>
<rect x="411.70" y="402.10" width="4.3" height="4.1" fill="#e42d28" fill-opacity="0.78"/>
<path d="M424.19 365.65L426.79 370.25L421.59 370.25Z" fill="#4a4a9e"/>
<rect x="422.04" y="389.10" width="4.3" height="4.1" fill="#e42d28" fill-opacity="0.78"/>
<path d="M434.53 347.55L437.13 352.15L431.93 352.15Z" fill="#4a4a9e"/>
<rect x="432.38" y="384.70" width="4.3" height="4.1" fill="#e42d28" fill-opacity="0.78"/>
<path d="M444.87 358.65L447.47 363.25L442.27 363.25Z" fill="#4a4a9e"/>
<rect x="442.72" y="386.30" width="4.3" height="4.1" fill="#e42d28" fill-opacity="0.78"/>
<path d="M455.21 361.15L457.81 365.75L452.61 365.75Z" fill="#4a4a9e"/>
<rect x="453.06" y="416.60" width="4.3" height="4.1" fill="#e42d28" fill-opacity="0.78"/>
<path d="M465.55 349.35L468.15 353.95L462.95 353.95Z" fill="#4a4a9e"/>
<rect x="463.40" y="379.60" width="4.3" height="4.1" fill="#e42d28" fill-opacity="0.78"/>
<path d="M475.89 386.05L478.49 390.65L473.29 390.65Z" fill="#4a4a9e"/>
<rect x="473.74" y="422.50" width="4.3" height="4.1" fill="#e42d28" fill-opacity="0.78"/>
<path d="M486.23 397.95L488.83 402.55L483.63 402.55Z" fill="#4a4a9e"/>
<rect x="484.08" y="423.70" width="4.3" height="4.1" fill="#e42d28" fill-opacity="0.78"/>
<path d="M496.57 419.15L499.17 423.75L493.97 423.75Z" fill="#4a4a9e"/>
<rect x="494.42" y="447.20" width="4.3" height="4.1" fill="#e42d28" fill-opacity="0.78"/>
<path d="M506.91 436.35L509.51 440.95L504.31 440.95Z" fill="#4a4a9e"/>
<rect x="504.76" y="463.70" width="4.3" height="4.1" fill="#e42d28" fill-opacity="0.78"/>
<path d="M517.25 417.75L519.85 422.35L514.65 422.35Z" fill="#4a4a9e"/>
<rect x="515.10" y="442.00" width="4.3" height="4.1" fill="#e42d28" fill-opacity="0.78"/>
<path d="M527.59 417.75L530.19 422.35L524.99 422.35Z" fill="#4a4a9e"/>
<rect x="525.44" y="434.40" width="4.3" height="4.1" fill="#e42d28" fill-opacity="0.78"/>
<path d="M537.93 316.05L540.53 320.65L535.33 320.65Z" fill="#4a4a9e"/>
<rect x="535.78" y="352.80" width="4.3" height="4.1" fill="#e42d28" fill-opacity="0.78"/>
<path d="M548.27 381.95L550.87 386.55L545.67 386.55Z" fill="#4a4a9e"/>
<rect x="546.12" y="393.40" width="4.3" height="4.1" fill="#e42d28" fill-opacity="0.78"/>
<path d="M558.61 414.45L561.21 419.05L556.01 419.05Z" fill="#4a4a9e"/>
<rect x="556.46" y="431.80" width="4.3" height="4.1" fill="#e42d28" fill-opacity="0.78"/>
<path d="M568.95 429.65L571.55 434.25L566.35 434.25Z" fill="#4a4a9e"/>
<rect x="566.80" y="438.40" width="4.3" height="4.1" fill="#e42d28" fill-opacity="0.78"/>
<path d="M579.29 419.45L581.89 424.05L576.69 424.05Z" fill="#4a4a9e"/>
<rect x="577.14" y="432.20" width="4.3" height="4.1" fill="#e42d28" fill-opacity="0.78"/>
<path d="M589.63 396.55L592.23 401.15L587.03 401.15Z" fill="#4a4a9e"/>
<rect x="587.48" y="411.50" width="4.3" height="4.1" fill="#e42d28" fill-opacity="0.78"/>
<path d="M599.97 405.35L602.57 409.95L597.37 409.95Z" fill="#4a4a9e"/>
<rect x="597.82" y="402.20" width="4.3" height="4.1" fill="#e42d28" fill-opacity="0.78"/>
<path d="M610.31 405.65L612.91 410.25L607.71 410.25Z" fill="#4a4a9e"/>
<rect x="608.16" y="439.20" width="4.3" height="4.1" fill="#e42d28" fill-opacity="0.78"/>
<path d="M620.65 419.65L623.25 424.25L618.05 424.25Z" fill="#4a4a9e"/>
<rect x="618.50" y="415.80" width="4.3" height="4.1" fill="#e42d28" fill-opacity="0.78"/>
<path d="M630.99 372.55L633.59 377.15L628.39 377.15Z" fill="#4a4a9e"/>
<rect x="628.84" y="391.50" width="4.3" height="4.1" fill="#e42d28" fill-opacity="0.78"/>
<path d="M641.33 422.55L643.93 427.15L638.73 427.15Z" fill="#4a4a9e"/>
<rect x="639.18" y="427.20" width="4.3" height="4.1" fill="#e42d28" fill-opacity="0.78"/>
<rect x="609.30" y="289.60" width="37.20" height="18.60" fill="#fcfbfa"/>
<line x1="609.30" y1="289.60" x2="646.50" y2="289.60" stroke="#dcdcdc" stroke-width="0.8"/>
<line x1="609.30" y1="308.20" x2="646.90" y2="308.20" stroke="#333" stroke-width="1"/>
<line x1="646.50" y1="289.60" x2="646.50" y2="308.20" stroke="#555" stroke-width="1"/>
<path d="M616.90 291.30L619.50 295.90L614.30 295.90Z" fill="#4a4a9e"/>
<rect x="614.75" y="300.95" width="4.3" height="4.1" fill="#e42d28" fill-opacity="0.78"/>
<text x="625.60" y="296.50" class="lg">DCAT</text>
<text x="625.60" y="305.40" class="lg">VMAT</text>
<text transform="translate(351.6,301.9) scale(1.0,1.0)" class="pl">D</text>
<text transform="translate(25.6,138) rotate(-90)" class="at" text-anchor="middle">CI</text>
<text transform="translate(358.0,137.5) rotate(-90)" class="at" text-anchor="middle">HI</text>
<text transform="translate(31.4,393.4) rotate(-90)" class="at" text-anchor="middle">D<tspan class="sub" dy="2.2">2cm</tspan><tspan dy="-2.2"> (%)</tspan></text>
<text transform="translate(362.0,393.4) rotate(-90)" class="at" style="font-size:11.2px" text-anchor="middle">R<tspan class="sub" style="font-size:7.8px" dy="2.4">50%</tspan></text>
</svg>
</body></html>
